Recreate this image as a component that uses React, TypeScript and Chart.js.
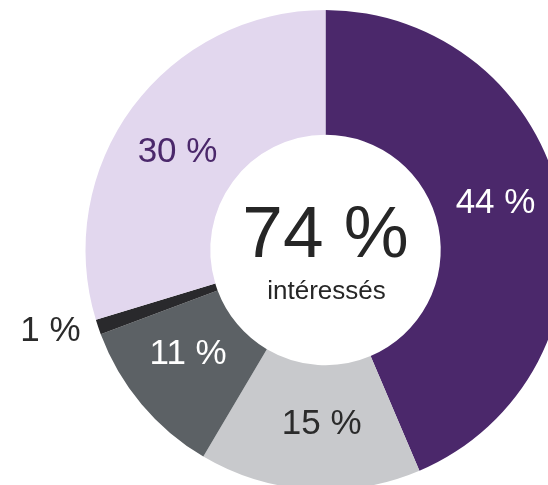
import React, { useEffect, useRef } from "react";
import { Chart, registerables } from "chart.js";

Chart.register(...registerables);

const categories = ["Très intéressés", "Plutôt intéressés", "Peu intéressés", "Ne sait pas", "Assez intéressés"];
const values = [43.6, 14.9, 10.8, 1.0, 29.7];
const valueLabels = ["44 %", "15 %", "11 %", "1 %", "30 %"];
const centerValue = "74 %";
const centerCaption = "intéressés";

const colors = ["#4B286B", "#C8C9CC", "#5C6165", "#29292C", "#E2D7EE"];
const labelColors = ["#FFFFFF", "#2B2B2B", "#FFFFFF", "#2B2B2B", "#4B286B"];
// label placement: radius (px from centre) and angular shift (deg) from the arc's mid angle
const labelRadius = [177, 172, 171, 286, 179];
const labelShift = [-4.6, -2.5, 3.4, 2.8, -2.3];

const FONT = "'Liberation Sans', Arial, Helvetica, sans-serif";

const labelPlugin = {
  id: "donutLabels",
  afterDraw(chart: any) {
    const ctx = chart.ctx;
    const meta = chart.getDatasetMeta(0);
    const arcs = meta.data;
    if (!arcs.length) return;
    const cx = arcs[0].x;
    const cy = arcs[0].y;
    ctx.save();
    ctx.textAlign = "center";
    ctx.textBaseline = "alphabetic";
    arcs.forEach((arc: any, i: number) => {
      const mid = (arc.startAngle + arc.endAngle) / 2 + (labelShift[i] * Math.PI) / 180;
      const x = cx + Math.cos(mid) * labelRadius[i];
      const y = cy + Math.sin(mid) * labelRadius[i];
      ctx.font = `35px ${FONT}`;
      ctx.fillStyle = labelColors[i];
      ctx.fillText(valueLabels[i], x, y + 12.5);
    });
    ctx.fillStyle = "#262626";
    ctx.font = `73px ${FONT}`;
    ctx.fillText(centerValue, cx, cy + 6.7);
    ctx.font = `26px ${FONT}`;
    ctx.fillText(centerCaption, cx + 1, cy + 49.3);
    ctx.restore();
  },
};

export default function App() {
  const ref = useRef<HTMLCanvasElement | null>(null);
  useEffect(() => {
    if (!ref.current) return;
    const chart = new Chart(ref.current, {
      type: "doughnut",
      data: {
        labels: categories,
        datasets: [
          {
            data: values,
            backgroundColor: colors,
            borderWidth: 0,
            hoverOffset: 0,
          },
        ],
      },
      options: {
        animation: false,
        responsive: false,
        maintainAspectRatio: false,
        radius: 240,
        cutout: 120,
        layout: { padding: 0 },
        events: [],
        plugins: {
          legend: { display: false },
          tooltip: { enabled: false },
        },
      },
      plugins: [labelPlugin],
    });
    return () => chart.destroy();
  }, []);
  return (
    <div
      style={{
        position: "fixed",
        left: 0,
        top: 0,
        width: 548,
        height: 485,
        overflow: "hidden",
        background: "#ffffff",
      }}
    >
      <canvas ref={ref} width={651} height={500} style={{ display: "block", width: 651, height: 500 }} />
    </div>
  );
}
